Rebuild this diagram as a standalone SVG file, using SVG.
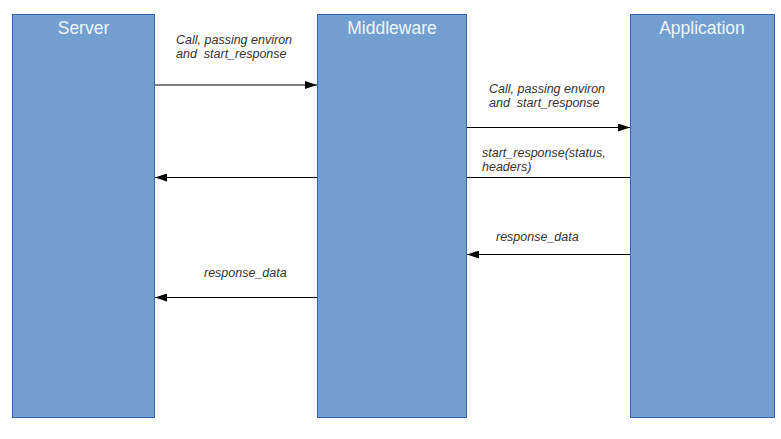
<svg xmlns="http://www.w3.org/2000/svg" width="781" height="439" viewBox="0 0 781 439">
<style>
.box{fill:#729fcf;stroke:#3465a4;stroke-width:1}
.title{font-family:"Liberation Sans",Arial,sans-serif;font-size:17.5px;fill:#eef4fb;text-anchor:middle}
.lbl{font-family:"Liberation Sans",Arial,sans-serif;font-size:12.5px;font-style:italic;fill:#333333;white-space:pre}
.conn{stroke:#000;stroke-width:1;fill:none}
</style>
<defs>
<marker id="ah" viewBox="0 0 12 8" refX="12" refY="4" markerWidth="12" markerHeight="8" markerUnits="userSpaceOnUse" orient="auto">
<path d="M0,0 L12,4 L0,8 Z" fill="#000"/>
</marker>
</defs>
<rect width="781" height="439" fill="#fff"/>
<g id="connectors">
<line class="conn" x1="155" y1="85" x2="317" y2="85" marker-end="url(#ah)"/>
<line class="conn" x1="467" y1="127.5" x2="630" y2="127.5" marker-end="url(#ah)"/>
<line class="conn" x1="630" y1="177.5" x2="155" y2="177.5" marker-end="url(#ah)"/>
<line class="conn" x1="630" y1="254.5" x2="467" y2="254.5" marker-end="url(#ah)"/>
<line class="conn" x1="317" y1="297.5" x2="155" y2="297.5" marker-end="url(#ah)"/>
</g>
<g id="server">
<rect class="box" x="12.5" y="14.5" width="142" height="403"/>
<text class="title" x="83.5" y="33.5">Server</text>
</g>
<g id="middleware">
<rect class="box" x="317.5" y="14.5" width="149" height="403"/>
<text class="title" x="392" y="33.5">Middleware</text>
</g>
<g id="application">
<rect class="box" x="630.5" y="14.5" width="144" height="403"/>
<text class="title" x="702" y="33.5">Application</text>
</g>
<g id="labels">
<text class="lbl" x="176" y="43.5">Call, passing environ</text>
<text class="lbl" x="176" y="57.5" xml:space="preserve">and  start_response</text>
<text class="lbl" x="489" y="93">Call, passing environ</text>
<text class="lbl" x="489" y="107" xml:space="preserve">and  start_response</text>
<text class="lbl" x="482" y="157">start_response(status,</text>
<text class="lbl" x="482" y="171">headers)</text>
<text class="lbl" x="496" y="240.5">response_data</text>
<text class="lbl" x="204" y="276.5">response_data</text>
</g>
</svg>
